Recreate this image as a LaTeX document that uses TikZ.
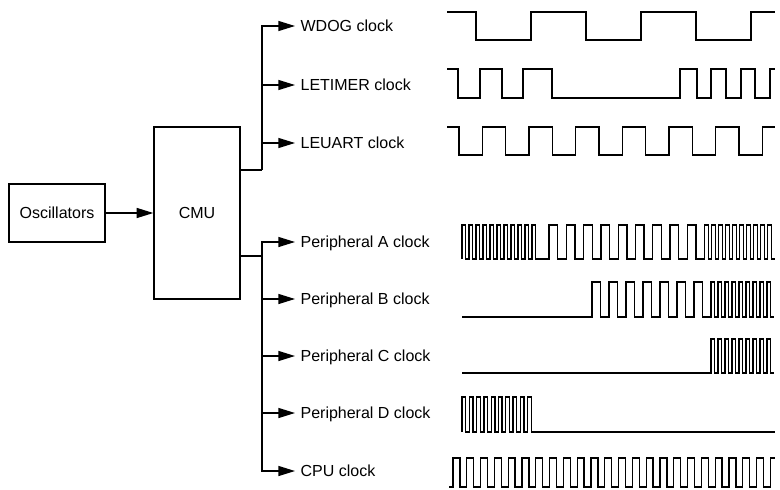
\documentclass[tikz,border=0pt]{standalone}
\usepackage{fontspec}
\setmainfont{Liberation Sans}
\usetikzlibrary{arrows.meta}
\begin{document}
\begin{tikzpicture}[x=0.75pt,y=-0.75pt,
  box/.style={draw,line width=1pt,inner sep=0pt},
  lbl/.style={anchor=west,inner xsep=4pt,inner ysep=0pt,text height=8.6pt,text depth=0pt,font=\fontsize{12}{14}\selectfont},
  txt/.style={inner sep=0pt,text height=8.6pt,text depth=0pt,font=\fontsize{12}{14}\selectfont},
  conn/.style={line width=1pt,-{Triangle[length=12.5pt,width=7.5pt]}},
  busline/.style={line width=1pt},
  thickbus/.style={line width=1.6pt},
  wave/.style={line width=1pt,line join=miter}]
\useasboundingbox (0,0) rectangle (780,489);

% boxes
\node[box,minimum width=72pt,minimum height=43.5pt] (osc) at (57,213) {};
\node[txt] (osct) at (57,213) {Oscillators};
\node[box,minimum width=64.5pt,minimum height=129pt] (cmu) at (197,213) {};
\node[txt] (cmut) at (197,213) {CMU};

\draw[conn] (osc.east) -- (cmu.west);

% labels
\node[lbl] (wdog) at (295,26) {WDOG clock};
\node[lbl] (letimer) at (295,85) {LETIMER clock};
\node[lbl] (leuart) at (295,143) {LEUART clock};
\node[lbl] (pa) at (295,242) {Peripheral A clock};
\node[lbl] (pb) at (295,299) {Peripheral B clock};
\node[lbl] (pc) at (295,356) {Peripheral C clock};
\node[lbl] (pd) at (295,413) {Peripheral D clock};
\node[lbl] (cpu) at (295,471) {CPU clock};

% buses
\coordinate (b1) at (262,170);
\coordinate (b2) at (262,256);
\draw[thickbus] (cmu.east |- b1) -- (b1);
\draw[thickbus] (cmu.east |- b2) -- (b2);
\foreach \t in {wdog,letimer,leuart} \draw[conn] (b1) |- (\t.west);
\foreach \t in {pa,pb,pc,pd,cpu} \draw[conn] (b2) |- (\t.west);

% WDOG
\draw[wave] (447,12) -- (476,12) -- (476,40) -- (531,40) -- (531,12) -- (586,12) -- (586,40)
  -- (641,40) -- (641,12) -- (696,12) -- (696,40) -- (751,40) -- (751,12) -- (775,12);
% LETIMER
\draw[wave] (447,69) -- (458,69) -- (458,98) -- (480,98) -- (480,69) -- (502,69) -- (502,98)
  -- (523,98) -- (523,69) -- (552,69) -- (552,98) -- (680,98) -- (680,69) -- (697,69) -- (697,98)
  -- (711,98) -- (711,69) -- (726,69) -- (726,98) -- (741,98) -- (741,69) -- (755,69) -- (755,98)
  -- (770,98) -- (770,69) -- (775,69);
% LEUART
\draw[wave] (447,127) -- (459,127) -- (459,155)
  \foreach \i in {1,...,6} { -- ++(23.33,0) -- ++(0,-28) -- ++(23.33,0) -- ++(0,28) }
  -- ++(23.33,0) -- ++(0,-28) -- (775,127);
% Peripheral A
\draw[wave] (462,259)
  \foreach \i in {1,...,11} { -- ++(0,-34) -- ++(3.5,0) -- ++(0,34) -- ++(3.5,0) }
  -- (549,259)
  \foreach \i in {1,...,9} { -- ++(0,-34) -- ++(8.65,0) -- ++(0,34) -- ++(8.65,0) }
  \foreach \i in {1,...,10} { -- ++(0,-34) -- ++(3.5,0) -- ++(0,34) -- ++(3.5,0) };
% Peripheral B
\draw[wave] (462,317) -- (592,317)
  \foreach \i in {1,...,7} { -- ++(0,-35) -- ++(8.5,0) -- ++(0,35) -- ++(8.5,0) }
  \foreach \i in {1,...,9} { -- ++(0,-35) -- ++(3.5,0) -- ++(0,35) -- ++(3.5,0) };
% Peripheral C
\draw[wave] (462,373) -- (711,373)
  \foreach \i in {1,...,9} { -- ++(0,-34) -- ++(3.5,0) -- ++(0,34) -- ++(3.5,0) };
% Peripheral D
\draw[wave] (462,432)
  \foreach \i in {1,...,10} { -- ++(0,-35) -- ++(3.65,0) -- ++(0,35) -- ++(3.65,0) }
  -- (775,432);
% CPU
\draw[wave] (449,487) -- (453,487)
  \foreach \i in {1,...,23} { -- ++(0,-29) -- ++(6.9,0) -- ++(0,29) -- ++(6.9,0) }
  -- ++(0,-29) -- (775,458);
\end{tikzpicture}
\end{document}
